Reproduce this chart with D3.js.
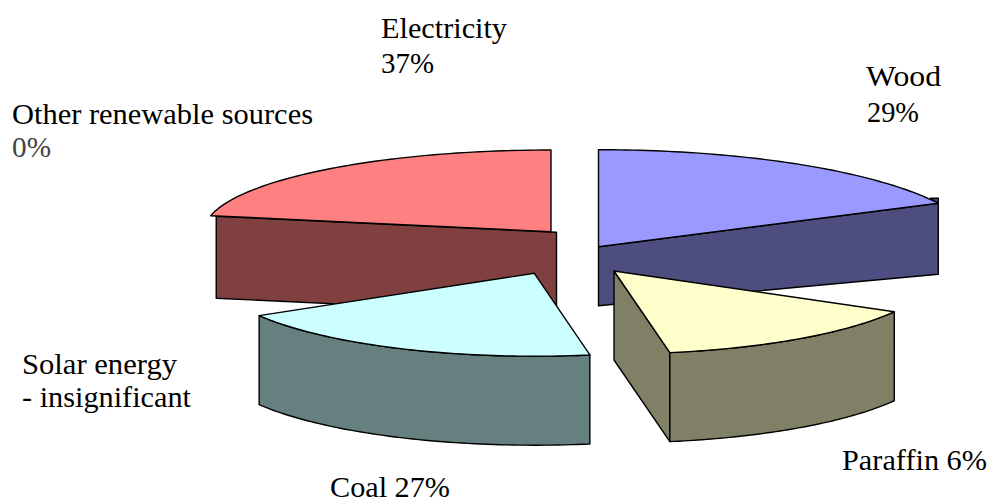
<!DOCTYPE html>
<html><head><meta charset="utf-8">
<style>html,body{margin:0;padding:0;background:#fff}svg{display:block}text{font-family:"Liberation Serif",serif;font-size:30px;fill:#000}</style>
<script src="https://cdn.jsdelivr.net/npm/d3@7/dist/d3.min.js"></script>
</head><body><svg id="c" width="987" height="502"></svg>
<script>
const categories = ["Wood","Paraffin","Coal","Solar energy","Other renewable sources","Electricity"];
const values = [29,6,27,0,0,37];
const tickLabels = [
  [["Wood",866,86,75],["29%",867,122,52]],
  [["Paraffin 6%",842,470,145]],
  [["Coal 27%",330,497,120]],
  [["Solar energy",22,374,155],["- insignificant",22,407,169]],
  [["Other renewable sources",12,124,301],["0%",12,157,39]],
  [["Electricity",381,38,126],["37%",381,73,53]]
];
// projected geometry of each exploded slice (ellipse centre, radii, shown sweep in degrees, wall depth)
const views = {
  Wood:{cx:598.5,cy:246.7,rx:380,ry:97,from:0,to:63.4,depthA:59,depthB:71,top:"#9999ff",side:"#4d4d80",wall:"chord",sliver:[-8,-5],order:1},
  Electricity:{cx:551,cy:231.7,rx:347,ry:81.7,from:-78.7,to:0,depthA:82,depthB:82,top:"#ff8080",side:"#804040",wall:"chord",shift:[5.5,.6],order:0},
  Coal:{cx:534.3,cy:273.3,rx:320,ry:82.9,from:239.3,to:170,depth:89,top:"#ccffff",side:"#668080",wall:"rim",order:2},
  Paraffin:{cx:614,cy:271,rx:321.7,ry:82.9,from:119.4,to:170,depth:89,top:"#ffffcc",side:"#808066",wall:"rimEdge",order:3}
};
const svg = d3.select("#c");
const pie = d3.pie().sort(null).value(d=>d)(values);
const line = d3.line().x(d=>d[0]).y(d=>d[1]);
const slices = pie.map((p,i)=>({p,name:categories[i],v:views[categories[i]]}))
  .filter(d=>d.p.value>0).sort((a,b)=>a.v.order-b.v.order);
function pathOf(pts){return line(pts)+"Z";}
function draw(s,pts,fill){
  s.append("path").attr("d",pathOf(pts)).attr("fill",fill).attr("stroke","#000").attr("stroke-width",1.4).attr("stroke-linejoin","round");
}
const g = svg.append("g");
slices.forEach(({p,v})=>{
  const ang = d3.scaleLinear().domain([p.startAngle,p.endAngle]).range([v.from,v.to]);
  const rad = d=>ang(d)*Math.PI/180;
  const arc = d3.range(0,61).map(k=>{
    const t = rad(p.startAngle+(p.endAngle-p.startAngle)*k/60);
    return [v.cx+v.rx*Math.sin(t), v.cy-v.ry*Math.cos(t)];
  });
  const c=[v.cx,v.cy], a0=arc[0], a1=arc[arc.length-1];
  const down=(q,h)=>[q[0],q[1]+h];
  if(v.wall==="chord"){
    const rim = v.from===0? a1 : a0;
    const [dx,dy]=v.shift||[0,0];
    const R=[rim[0]+dx,rim[1]+dy], C=[c[0]+dx,c[1]+dy];
    if(v.sliver) draw(g,[R,[R[0]+v.sliver[0],R[1]+v.sliver[1]],[R[0],R[1]+v.sliver[1]]],v.side);
    const hR = rim[0]>c[0]? v.depthB : v.depthA;
    const hC = rim[0]>c[0]? v.depthA : v.depthB;
    draw(g,[C,R,down(R,hR),down(C,hC)],v.side);
  }
  if(v.wall==="rimEdge"){
    draw(g,[c,a1,down(a1,v.depth),down(c,v.depth)],v.side);
  }
  if(v.wall==="rim"||v.wall==="rimEdge"){
    draw(g,arc.concat(arc.slice().reverse().map(q=>down(q,v.depth))),v.side);
  }
  draw(g,[c].concat(arc),v.top);
});
categories.forEach((n,i)=>{
  tickLabels[i].forEach(([t,x,y,w])=>svg.append("text").attr("x",x).attr("y",y)
    .attr("textLength",w).attr("lengthAdjust","spacingAndGlyphs")
    .style("fill",t==="0%"?"#444":null).text(t));
});
</script></body></html>
